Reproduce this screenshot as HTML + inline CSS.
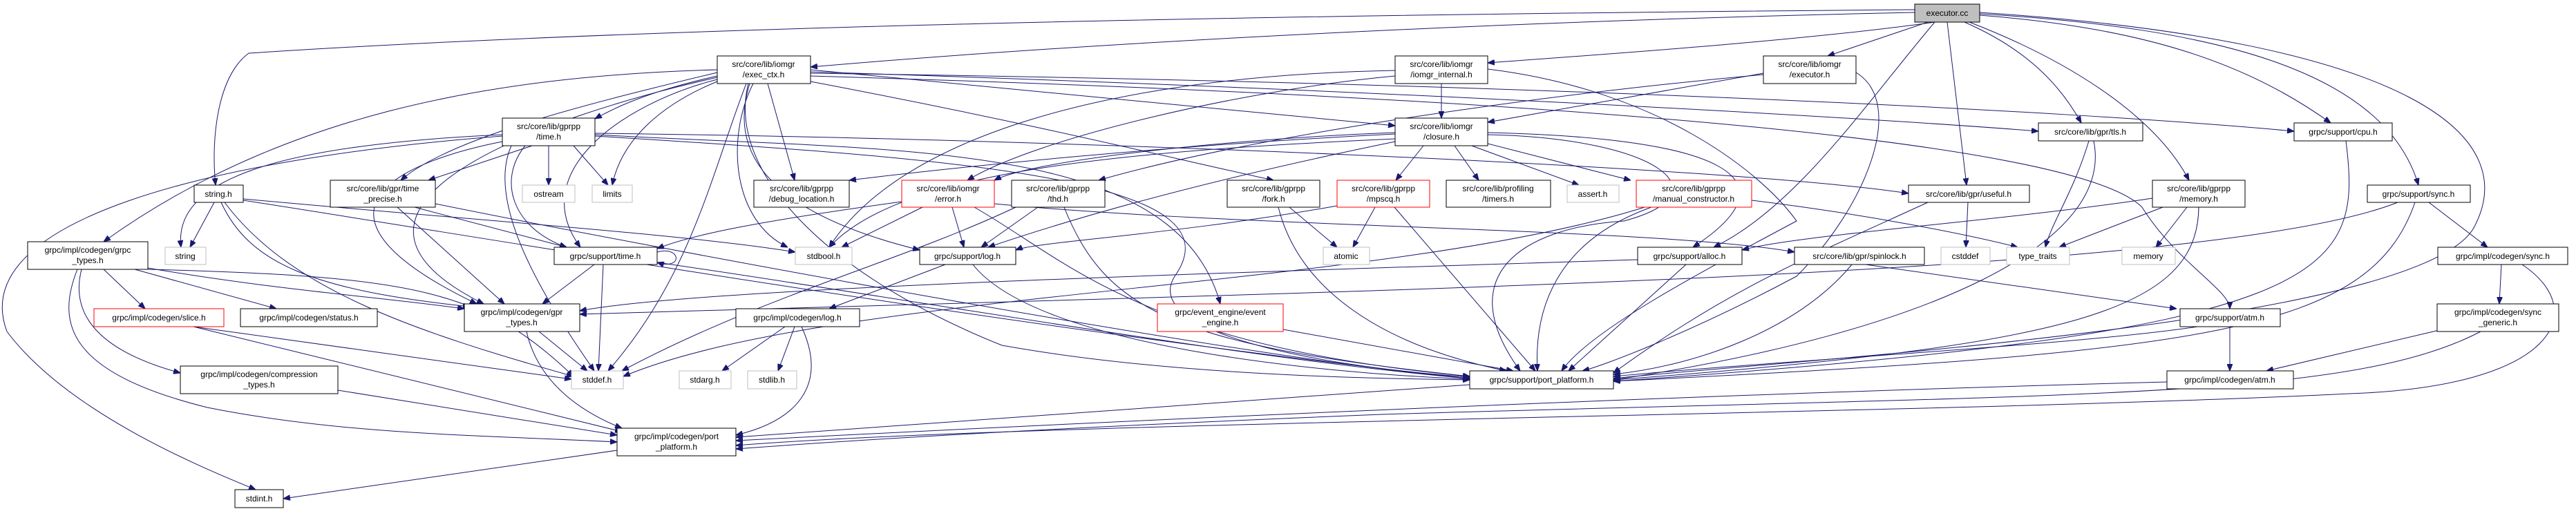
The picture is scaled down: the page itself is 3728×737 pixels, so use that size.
<!DOCTYPE html>
<html><head><meta charset="utf-8">
<style>
html,body{margin:0;padding:0;background:#fff;}
svg{display:block;}
text{font-family:"Liberation Sans",sans-serif;font-size:12px;fill:#000;}
.n{fill:#fff;stroke:#000;stroke-width:1;}
.g{fill:#fff;stroke:#bfbfbf;stroke-width:1;}
.r{fill:#fff;stroke:#ff0000;stroke-width:1;}
.e path{fill:none;stroke:#191970;stroke-width:1;marker-end:url(#a);}
</style></head>
<body>
<svg width="3728" height="737" viewBox="0 0 3728 737" xmlns="http://www.w3.org/2000/svg">
<defs>
<marker id="a" markerWidth="10" markerHeight="8" refX="10" refY="4" orient="auto" markerUnits="userSpaceOnUse">
<path d="M0,0 L10,4 L0,8 z" fill="#191970" stroke="#191970"/>
</marker>
</defs>
<g class="e">
<!-- executor.cc -->
<path d="M2771,14 C2000,20 1000,35 360,77 C315,110 305,200 312,268"/>
<path d="M2771,18 C2200,30 1600,60 1173,97"/>
<path d="M2800,32 C2600,60 2300,80 2153,91"/>
<path d="M2790,32 L2645,81"/>
<path d="M2843,32 C2930,70 2980,120 3012,178"/>
<path d="M2818,32 L2846,268"/>
<path d="M2850,32 C3000,90 3120,170 3168,261"/>
<path d="M2865,22 C3100,40 3250,90 3373,178"/>
<path d="M2865,20 C3200,40 3450,100 3500,268"/>
<path d="M2865,18 C3500,60 3650,200 3580,330 C3500,470 2600,520 2335,548"/>
<path d="M2800,32 C2700,150 2600,300 2480,358"/>
<!-- exec_ctx -->
<path d="M1038,110 C950,130 900,150 861,172"/>
<path d="M1038,105 C850,150 650,200 580,261"/>
<path d="M1038,101 C700,110 400,170 150,350"/>
<path d="M1111,121 L1150,261"/>
<path d="M1090,121 C1050,200 1060,320 1140,358"/>
<path d="M1085,121 C1060,200 1080,300 1331,362"/>
<path d="M1038,118 C960,150 900,200 886,268"/>
<path d="M1038,115 C900,150 760,250 840,358"/>
<path d="M1038,112 C780,170 420,300 700,440"/>
<path d="M1083,121 C1050,250 1200,400 1450,500 C1700,545 2000,548 2127,550"/>
<path d="M1080,121 C1030,250 1000,400 880,537"/>
<path d="M1173,101 C1500,130 1800,160 2019,182"/>
<path d="M1173,104 C2000,130 2700,170 2950,190"/>
<path d="M1173,106 C2200,120 3000,160 3320,190"/>
<path d="M1173,118 C1500,180 1700,230 1843,261"/>
<path d="M1173,110 C2200,140 3000,200 3100,300 C3150,380 3227,420 3227,447"/>
<!-- iomgr_internal -->
<path d="M2086,121 L2086,171"/>
<path d="M2019,110 C1800,130 1500,200 1400,261"/>
<path d="M2019,102 C1600,110 1300,200 1200,358"/>
<path d="M2153,100 C2400,130 2550,250 2600,320 C2450,400 2300,480 2260,537"/>
<!-- executor.h -->
<path d="M2552,106 L2153,177"/>
<path d="M2552,108 C2200,140 1800,200 1590,261"/>
<path d="M2686,105 C2760,150 2700,300 2600,400 C2450,480 2320,530 2290,537"/>
<!-- closure -->
<path d="M2060,211 L2020,261"/>
<path d="M2105,211 L2140,261"/>
<path d="M2130,211 L2285,268"/>
<path d="M2153,208 L2360,261"/>
<path d="M2019,192 C1800,200 1500,230 1439,261"/>
<path d="M2019,194 C1700,210 1400,240 1229,261"/>
<path d="M2019,201 C1600,220 1300,250 1200,358"/>
<path d="M2019,205 C1800,250 1600,300 1430,358"/>
<path d="M2153,192 C2500,200 2600,260 2450,358"/>
<path d="M2153,195 C2400,200 2500,280 2350,320 C2200,330 2100,400 2200,537"/>
<!-- gprpp/time -->
<path d="M794,211 L794,268"/>
<path d="M830,211 L880,268"/>
<path d="M727,195 C400,210 250,260 262,358"/>
<path d="M770,211 L620,261"/>
<path d="M760,211 C720,260 740,330 820,358"/>
<path d="M727,205 C600,230 400,300 690,440"/>
<path d="M727,197 C300,230 -50,320 10,480 C100,600 300,680 370,709"/>
<path d="M861,193 C1500,200 2500,240 2762,280"/>
<path d="M861,195 C1300,220 1700,200 1766,440"/>
<path d="M861,197 C1400,230 1800,260 1700,400 C1650,480 1900,530 2127,546"/>
<path d="M740,211 C700,300 800,450 860,537"/>
<!-- time_precise -->
<path d="M600,300 L820,358"/>
<path d="M575,300 L730,440"/>
<path d="M630,295 C900,350 1800,520 2127,548"/>
<!-- string.h -->
<path d="M310,293 L275,358"/>
<path d="M320,293 C360,380 450,420 680,444"/>
<path d="M325,293 C420,420 600,480 830,545"/>
<path d="M352,290 C800,360 1500,480 2127,548"/>
<path d="M352,288 C700,320 1000,340 1151,365"/>
<!-- support/time -->
<path d="M951,365 C985,355 990,392 951,380"/>
<path d="M860,383 L785,440"/>
<path d="M873,383 L866,537"/>
<path d="M951,380 C1300,430 1800,520 2127,548"/>
<!-- grpc_types -->
<path d="M150,390 L210,447"/>
<path d="M195,390 L400,447"/>
<path d="M118,390 C100,460 150,510 261,540"/>
<path d="M214,388 C400,420 550,430 672,447"/>
<path d="M214,390 C600,400 700,420 830,545"/>
<path d="M112,390 C80,470 100,540 300,590 C500,630 700,630 893,640"/>
<!-- slice, compression, gpr_types, codegen port -->
<path d="M280,473 L827,549"/>
<path d="M280,473 L900,625"/>
<path d="M489,565 L893,630"/>
<path d="M780,480 L850,537"/>
<path d="M762,480 C780,560 850,600 900,620"/>
<path d="M893,652 L410,722"/>
<!-- error -->
<path d="M1305,292 C1100,320 1000,340 951,360"/>
<path d="M1335,300 L1218,358"/>
<path d="M1378,300 L1395,358"/>
<path d="M1410,300 C1550,380 1650,500 2127,545"/>
<path d="M1439,295 C1800,330 2400,330 2597,365"/>
<!-- thd -->
<path d="M1502,300 L1420,358"/>
<path d="M1540,300 C1600,450 1700,500 2127,545"/>
<path d="M1470,300 C1300,380 1100,430 900,537"/>
<!-- fork, mpscq, manual -->
<path d="M1866,300 L1935,358"/>
<path d="M1850,300 C1880,420 2000,500 2180,537"/>
<path d="M1990,300 L1958,358"/>
<path d="M2018,300 L2222,537"/>
<path d="M1935,298 C1700,340 1500,350 1470,362"/>
<path d="M2535,290 C2700,310 2850,340 2920,358"/>
<path d="M2390,300 C2250,350 2220,450 2225,537"/>
<path d="M2380,300 C2000,420 1200,420 902,545"/>
<!-- log -->
<path d="M1368,383 L1200,447"/>
<path d="M1408,383 C1500,500 1900,540 2127,549"/>
<path d="M1136,473 L1045,537"/>
<path d="M1150,473 L1126,537"/>
<path d="M1160,473 C1200,560 1150,610 1065,630"/>
<path d="M1857,477 L2190,537"/>
<!-- alloc, spinlock -->
<path d="M2440,383 L2270,537"/>
<path d="M2370,376 C1600,400 1000,420 839,450"/>
<path d="M2700,383 L3150,447"/>
<path d="M2680,383 C2600,480 2450,530 2335,542"/>
<!-- tls, useful, memory, cpu -->
<path d="M3023,204 C3000,280 2970,320 2960,358"/>
<path d="M3030,204 C3060,350 2800,480 2335,550"/>
<path d="M2848,293 L2845,358"/>
<path d="M2790,293 C2600,380 2500,420 2335,540"/>
<path d="M3165,300 L3120,358"/>
<path d="M3130,300 L2980,358"/>
<path d="M3115,287 C2900,320 2600,340 2521,362"/>
<path d="M3182,300 C3180,450 3000,500 2335,550"/>
<path d="M3395,204 C3420,400 3380,480 2335,552"/>
<!-- sync -->
<path d="M3515,293 L3600,358"/>
<path d="M3495,293 C3430,480 3200,510 2335,552"/>
<path d="M3470,293 C3200,400 2000,420 839,455"/>
<path d="M3620,383 L3617,440"/>
<path d="M3650,383 C3750,450 3700,560 3400,570 C2800,600 1500,610 1065,645"/>
<path d="M3530,478 L3280,537"/>
<path d="M3590,480 C3400,580 3000,570 2000,600 C1500,620 1200,640 1065,650"/>
<path d="M3227,473 L3227,537"/>
<path d="M3180,473 C3000,500 2600,520 2335,545"/>
<path d="M3136,553 C2500,570 1800,600 1065,638"/>
<path d="M2127,557 C1800,580 1400,610 1065,633"/>
</g>

<!-- nodes -->
<rect x="2771" y="6" width="94" height="26" fill="#bfbfbf" stroke="#000"/><text x="2818" y="23" text-anchor="middle">executor.cc</text>
<rect class="n" x="1038" y="81" width="135" height="40"/><text x="1105" y="97" text-anchor="middle">src/core/lib/iomgr</text><text x="1105" y="112" text-anchor="middle">/exec_ctx.h</text>
<rect class="n" x="2019" y="81" width="134" height="40"/><text x="2086" y="97" text-anchor="middle">src/core/lib/iomgr</text><text x="2086" y="112" text-anchor="middle">/iomgr_internal.h</text>
<rect class="n" x="2552" y="81" width="134" height="40"/><text x="2619" y="97" text-anchor="middle">src/core/lib/iomgr</text><text x="2619" y="112" text-anchor="middle">/executor.h</text>
<rect class="n" x="2019" y="171" width="134" height="40"/><text x="2086" y="187" text-anchor="middle">src/core/lib/iomgr</text><text x="2086" y="202" text-anchor="middle">/closure.h</text>
<rect class="n" x="727" y="171" width="134" height="40"/><text x="794" y="187" text-anchor="middle">src/core/lib/gprpp</text><text x="794" y="202" text-anchor="middle">/time.h</text>
<rect class="n" x="2950" y="178" width="151" height="26"/><text x="3025" y="195" text-anchor="middle">src/core/lib/gpr/tls.h</text>
<rect class="n" x="3320" y="178" width="142" height="26"/><text x="3391" y="195" text-anchor="middle">grpc/support/cpu.h</text>
<rect class="n" x="281" y="268" width="71" height="25"/><text x="316" y="285" text-anchor="middle">string.h</text>
<rect class="n" x="478" y="261" width="152" height="39"/><text x="554" y="277" text-anchor="middle">src/core/lib/gpr/time</text><text x="554" y="292" text-anchor="middle">_precise.h</text>
<rect class="g" x="756" y="268" width="76" height="25"/><text x="794" y="285" text-anchor="middle">ostream</text>
<rect class="g" x="857" y="268" width="58" height="25"/><text x="886" y="285" text-anchor="middle">limits</text>
<rect class="n" x="1091" y="261" width="138" height="39"/><text x="1160" y="277" text-anchor="middle">src/core/lib/gprpp</text><text x="1160" y="292" text-anchor="middle">/debug_location.h</text>
<rect class="r" x="1305" y="261" width="134" height="39"/><text x="1372" y="277" text-anchor="middle">src/core/lib/iomgr</text><text x="1372" y="292" text-anchor="middle">/error.h</text>
<rect class="n" x="1464" y="261" width="135" height="39"/><text x="1531" y="277" text-anchor="middle">src/core/lib/gprpp</text><text x="1531" y="292" text-anchor="middle">/thd.h</text>
<rect class="n" x="1776" y="261" width="134" height="39"/><text x="1843" y="277" text-anchor="middle">src/core/lib/gprpp</text><text x="1843" y="292" text-anchor="middle">/fork.h</text>
<rect class="r" x="1935" y="261" width="134" height="39"/><text x="2002" y="277" text-anchor="middle">src/core/lib/gprpp</text><text x="2002" y="292" text-anchor="middle">/mpscq.h</text>
<rect class="n" x="2093" y="261" width="151" height="39"/><text x="2168" y="277" text-anchor="middle">src/core/lib/profiling</text><text x="2168" y="292" text-anchor="middle">/timers.h</text>
<rect class="g" x="2268" y="268" width="75" height="25"/><text x="2305" y="285" text-anchor="middle">assert.h</text>
<rect class="r" x="2368" y="261" width="167" height="39"/><text x="2451" y="277" text-anchor="middle">src/core/lib/gprpp</text><text x="2451" y="292" text-anchor="middle">/manual_constructor.h</text>
<rect class="n" x="2762" y="268" width="175" height="25"/><text x="2849" y="285" text-anchor="middle">src/core/lib/gpr/useful.h</text>
<rect class="n" x="3115" y="261" width="134" height="39"/><text x="3182" y="277" text-anchor="middle">src/core/lib/gprpp</text><text x="3182" y="292" text-anchor="middle">/memory.h</text>
<rect class="n" x="3426" y="268" width="149" height="25"/><text x="3500" y="285" text-anchor="middle">grpc/support/sync.h</text>
<rect class="n" x="40" y="350" width="174" height="40"/><text x="127" y="366" text-anchor="middle">grpc/impl/codegen/grpc</text><text x="127" y="381" text-anchor="middle">_types.h</text>
<rect class="g" x="239" y="358" width="59" height="25"/><text x="268" y="375" text-anchor="middle">string</text>
<rect class="n" x="802" y="358" width="149" height="25"/><text x="876" y="375" text-anchor="middle">grpc/support/time.h</text>
<rect class="g" x="1151" y="358" width="82" height="25"/><text x="1192" y="375" text-anchor="middle">stdbool.h</text>
<rect class="n" x="1331" y="358" width="139" height="25"/><text x="1400" y="375" text-anchor="middle">grpc/support/log.h</text>
<rect class="g" x="1915" y="358" width="67" height="25"/><text x="1948" y="375" text-anchor="middle">atomic</text>
<rect class="n" x="2370" y="358" width="151" height="25"/><text x="2445" y="375" text-anchor="middle">grpc/support/alloc.h</text>
<rect class="n" x="2597" y="358" width="188" height="25"/><text x="2691" y="375" text-anchor="middle">src/core/lib/gpr/spinlock.h</text>
<rect class="g" x="2809" y="358" width="71" height="25"/><text x="2844" y="375" text-anchor="middle">cstddef</text>
<rect class="g" x="2904" y="358" width="91" height="25"/><text x="2949" y="375" text-anchor="middle">type_traits</text>
<rect class="g" x="3071" y="358" width="77" height="25"/><text x="3109" y="375" text-anchor="middle">memory</text>
<rect class="n" x="3528" y="358" width="188" height="25"/><text x="3622" y="375" text-anchor="middle">grpc/impl/codegen/sync.h</text>
<rect class="n" x="672" y="440" width="167" height="40"/><text x="755" y="456" text-anchor="middle">grpc/impl/codegen/gpr</text><text x="755" y="471" text-anchor="middle">_types.h</text>
<rect class="r" x="136" y="447" width="188" height="26"/><text x="230" y="464" text-anchor="middle">grpc/impl/codegen/slice.h</text>
<rect class="n" x="348" y="447" width="198" height="26"/><text x="447" y="464" text-anchor="middle">grpc/impl/codegen/status.h</text>
<rect class="n" x="1065" y="447" width="179" height="26"/><text x="1154" y="464" text-anchor="middle">grpc/impl/codegen/log.h</text>
<rect class="r" x="1675" y="440" width="182" height="40"/><text x="1766" y="456" text-anchor="middle">grpc/event_engine/event</text><text x="1766" y="471" text-anchor="middle">_engine.h</text>
<rect class="n" x="3155" y="447" width="145" height="26"/><text x="3227" y="464" text-anchor="middle">grpc/support/atm.h</text>
<rect class="n" x="3527" y="440" width="176" height="40"/><text x="3615" y="456" text-anchor="middle">grpc/impl/codegen/sync</text><text x="3615" y="471" text-anchor="middle">_generic.h</text>
<rect class="n" x="261" y="530" width="228" height="40"/><text x="375" y="546" text-anchor="middle">grpc/impl/codegen/compression</text><text x="375" y="561" text-anchor="middle">_types.h</text>
<rect class="g" x="827" y="537" width="75" height="26"/><text x="864" y="554" text-anchor="middle">stddef.h</text>
<rect class="g" x="983" y="537" width="75" height="26"/><text x="1020" y="554" text-anchor="middle">stdarg.h</text>
<rect class="g" x="1082" y="537" width="71" height="26"/><text x="1117" y="554" text-anchor="middle">stdlib.h</text>
<rect class="n" x="2127" y="537" width="208" height="26"/><text x="2231" y="554" text-anchor="middle">grpc/support/port_platform.h</text>
<rect class="n" x="3136" y="537" width="183" height="26"/><text x="3227" y="554" text-anchor="middle">grpc/impl/codegen/atm.h</text>
<rect class="n" x="893" y="620" width="172" height="40"/><text x="979" y="636" text-anchor="middle">grpc/impl/codegen/port</text><text x="979" y="651" text-anchor="middle">_platform.h</text>
<rect class="n" x="340" y="709" width="70" height="26"/><text x="375" y="726" text-anchor="middle">stdint.h</text>
</svg>
</body></html>
